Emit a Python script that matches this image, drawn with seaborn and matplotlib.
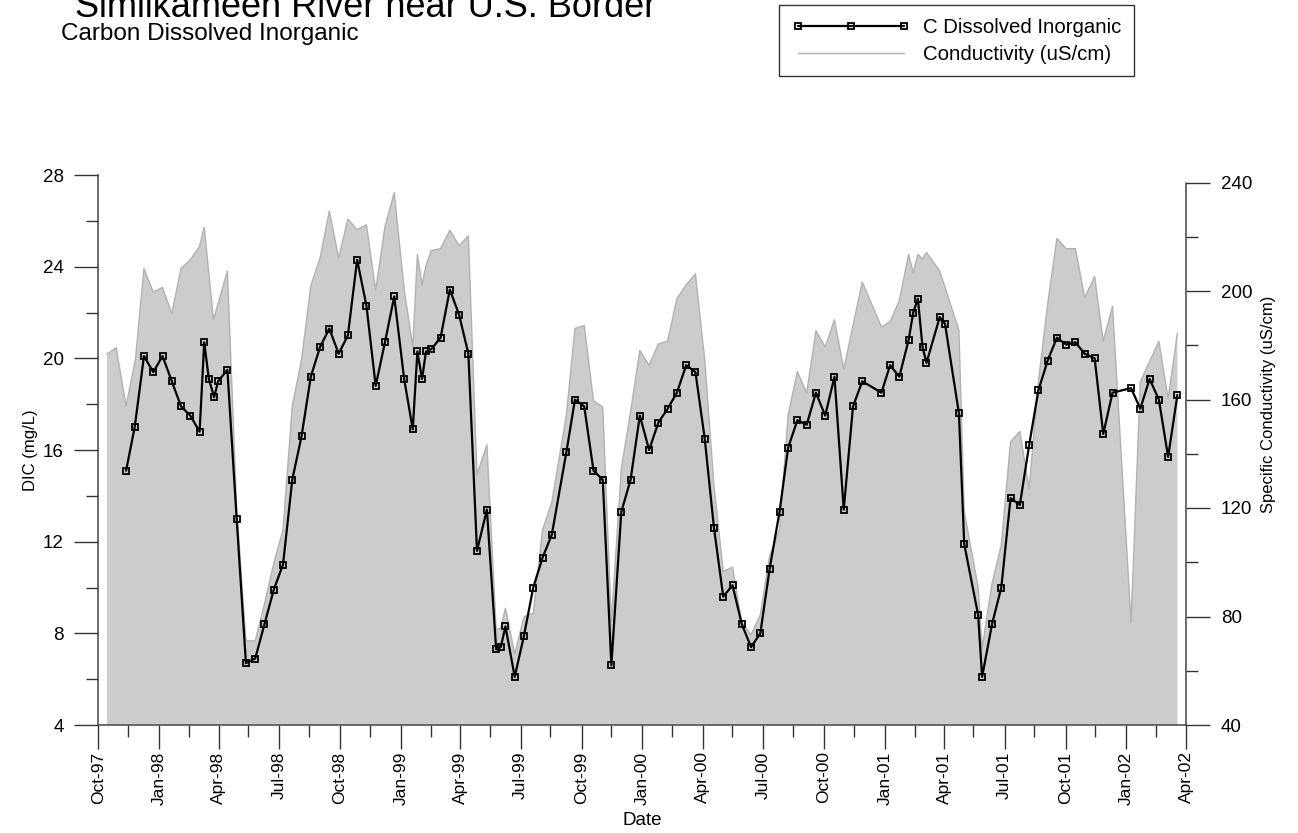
import numpy as np
import pandas as pd
import matplotlib
matplotlib.use("Agg")
import matplotlib.pyplot as plt
import matplotlib.dates as mdates
from matplotlib.lines import Line2D
import seaborn as sns

# ---------------- data ----------------
title = "Similkameen River near U.S. Border"
subtitle = "Carbon Dissolved Inorganic"
dic_label = "C Dissolved Inorganic"
cond_label = "Conductivity (uS/cm)"

dic_dates = [
    '1997-11-12', '1997-11-25', '1997-12-09', '1997-12-23', '1998-01-06', '1998-01-20', '1998-02-03',
    '1998-02-17', '1998-03-03', '1998-03-10', '1998-03-17', '1998-03-25', '1998-03-31', '1998-04-14',
    '1998-04-28', '1998-05-12', '1998-05-26', '1998-06-09', '1998-06-23', '1998-07-07', '1998-07-21',
    '1998-08-04', '1998-08-18', '1998-09-01', '1998-09-15', '1998-09-29', '1998-10-13', '1998-10-27',
    '1998-11-10', '1998-11-24', '1998-12-08', '1998-12-22', '1999-01-06', '1999-01-19', '1999-01-26',
    '1999-02-02', '1999-02-08', '1999-02-16', '1999-03-02', '1999-03-16', '1999-03-30', '1999-04-13',
    '1999-04-26', '1999-05-11', '1999-05-25', '1999-06-01', '1999-06-08', '1999-06-22', '1999-07-06',
    '1999-07-20', '1999-08-03', '1999-08-17', '1999-09-08', '1999-09-21', '1999-10-05', '1999-10-19',
    '1999-11-02', '1999-11-15', '1999-11-30', '1999-12-14', '1999-12-28', '2000-01-11', '2000-01-25',
    '2000-02-08', '2000-02-22', '2000-03-07', '2000-03-21', '2000-04-04', '2000-04-18', '2000-05-02',
    '2000-05-16', '2000-05-30', '2000-06-13', '2000-06-27', '2000-07-11', '2000-07-26', '2000-08-08',
    '2000-08-22', '2000-09-05', '2000-09-19', '2000-10-03', '2000-10-17', '2000-10-31', '2000-11-14',
    '2000-11-28', '2000-12-27', '2001-01-09', '2001-01-23', '2001-02-06', '2001-02-13', '2001-02-20',
    '2001-02-27', '2001-03-05', '2001-03-25', '2001-04-02', '2001-04-23', '2001-05-01', '2001-05-22',
    '2001-05-28', '2001-06-12', '2001-06-26', '2001-07-10', '2001-07-24', '2001-08-07', '2001-08-21',
    '2001-09-04', '2001-09-18', '2001-10-02', '2001-10-16', '2001-10-30', '2001-11-14', '2001-11-27',
    '2001-12-11', '2002-01-08', '2002-01-22', '2002-02-05', '2002-02-19', '2002-03-05', '2002-03-19']

dic_values = [
    15.1, 17.0, 20.1, 19.4, 20.1, 19.0, 17.9, 17.5, 16.8, 20.7, 19.1, 18.3, 19.0, 19.5,
    13.0, 6.7, 6.9, 8.4, 9.9, 11.0, 14.7, 16.6, 19.2, 20.5, 21.3, 20.2, 21.0, 24.3,
    22.3, 18.8, 20.7, 22.7, 19.1, 16.9, 20.3, 19.1, 20.3, 20.4, 20.9, 23.0, 21.9, 20.2,
    11.6, 13.4, 7.3, 7.4, 8.3, 6.1, 7.9, 10.0, 11.3, 12.3, 15.9, 18.2, 17.9, 15.1,
    14.7, 6.6, 13.3, 14.7, 17.5, 16.0, 17.2, 17.8, 18.5, 19.7, 19.4, 16.5, 12.6, 9.6,
    10.1, 8.4, 7.4, 8.0, 10.8, 13.3, 16.1, 17.3, 17.1, 18.5, 17.5, 19.2, 13.4, 17.9,
    19.0, 18.5, 19.7, 19.2, 20.8, 22.0, 22.6, 20.5, 19.8, 21.8, 21.5, 17.6, 11.9, 8.8,
    6.1, 8.4, 10.0, 13.9, 13.6, 16.2, 18.6, 19.9, 20.9, 20.6, 20.7, 20.2, 20.0, 16.7,
    18.5, 18.7, 17.8, 19.1, 18.2, 15.7, 18.4]

cond_dates = [
    '1997-10-14', '1997-10-28', '1997-11-12', '1997-11-26', '1997-12-09', '1997-12-23', '1998-01-06',
    '1998-01-20', '1998-02-03', '1998-02-17', '1998-03-03', '1998-03-10', '1998-03-24', '1998-04-14',
    '1998-04-28', '1998-05-12', '1998-05-26', '1998-06-09', '1998-06-23', '1998-07-07', '1998-07-21',
    '1998-08-04', '1998-08-18', '1998-09-01', '1998-09-15', '1998-09-29', '1998-10-13', '1998-10-27',
    '1998-11-10', '1998-11-24', '1998-12-08', '1998-12-22', '1999-01-06', '1999-01-19', '1999-01-26',
    '1999-02-02', '1999-02-08', '1999-02-16', '1999-03-02', '1999-03-16', '1999-03-30', '1999-04-13',
    '1999-04-26', '1999-05-11', '1999-05-25', '1999-06-01', '1999-06-08', '1999-06-22', '1999-07-06',
    '1999-07-20', '1999-08-03', '1999-08-17', '1999-09-08', '1999-09-21', '1999-10-05', '1999-10-19',
    '1999-11-02', '1999-11-15', '1999-11-30', '1999-12-14', '1999-12-28', '2000-01-11', '2000-01-25',
    '2000-02-08', '2000-02-22', '2000-03-07', '2000-03-21', '2000-04-04', '2000-04-18', '2000-05-02',
    '2000-05-16', '2000-05-30', '2000-06-13', '2000-06-27', '2000-07-11', '2000-07-26', '2000-08-08',
    '2000-08-22', '2000-09-05', '2000-09-19', '2000-10-03', '2000-10-17', '2000-10-31', '2000-11-28',
    '2000-12-27', '2001-01-09', '2001-01-23', '2001-02-06', '2001-02-13', '2001-02-20', '2001-02-27',
    '2001-03-05', '2001-03-25', '2001-04-02', '2001-04-23', '2001-05-01', '2001-05-22', '2001-05-28',
    '2001-06-12', '2001-06-26', '2001-07-10', '2001-07-24', '2001-08-07', '2001-08-21', '2001-09-04',
    '2001-09-18', '2001-10-02', '2001-10-16', '2001-10-30', '2001-11-14', '2001-11-27', '2001-12-11',
    '2002-01-08', '2002-01-22', '2002-02-05', '2002-02-19', '2002-03-05', '2002-03-19']

cond_values = [
    176.7, 179.1, 157.6, 174.6, 208.3, 199.6, 201.3, 191.7, 208.3, 211.5, 216.5, 223.5, 189.4, 207.4,
    120.0, 71.0, 71.0, 84.6, 99.6, 111.9, 157.6, 174.6, 201.9, 212.2, 229.5, 212.2, 226.5, 222.6,
    224.4, 200.3, 223.7, 236.3, 200.6, 179.4, 213.5, 202.3, 209.4, 214.9, 215.6, 222.4, 216.7, 220.3,
    132.3, 143.3, 75.1, 75.8, 83.0, 66.2, 79.9, 81.2, 111.9, 122.1, 154.2, 186.2, 187.3, 159.6,
    157.2, 78.0, 134.4, 155.5, 178.1, 172.6, 180.5, 181.5, 197.2, 202.3, 206.3, 174.6, 128.3, 96.6,
    98.2, 77.8, 73.3, 80.6, 102.3, 111.9, 154.2, 170.3, 162.4, 185.3, 179.4, 189.4, 171.2, 203.3,
    186.7, 188.7, 196.5, 213.5, 206.7, 213.5, 211.8, 214.2, 207.4, 201.3, 185.5, 118.7, 90.8, 68.3,
    92.1, 106.4, 144.4, 148.2, 127.2, 166.5, 195.1, 219.4, 215.6, 215.6, 197.6, 205.3, 181.5, 194.4,
    77.8, 166.5, 174.0, 181.5, 160.3, 184.5]

dic_ticks = [4, 8, 12, 16, 20, 24, 28]
cond_ticks = [40, 80, 120, 160, 200, 240]

# ---------------- figure ----------------
sns.set_theme(style="white")
plt.rcParams['font.family'] = ['Liberation Sans', 'DejaVu Sans']
plt.rcParams['text.color'] = 'black'
plt.rcParams['axes.labelcolor'] = 'black'
plt.rcParams['xtick.color'] = 'black'
plt.rcParams['ytick.color'] = 'black'

W, H = 1298, 833
fig = plt.figure(figsize=(W / 100, H / 100), dpi=100)
L, R, T, B = 98.3, 1186.0, 175.0, 725.0
ax = fig.add_axes([L / W, 1 - B / H, (R - L) / W, (B - T) / H])
ax2 = ax.twinx()
ax.set_zorder(ax2.get_zorder() + 1)
ax.patch.set_visible(False)

dic_df = pd.DataFrame({"date": pd.to_datetime(dic_dates), "dic": dic_values})
cond_df = pd.DataFrame({"date": pd.to_datetime(cond_dates), "cond": cond_values})

# conductivity area (right axis)
ax2.fill_between(cond_df["date"], cond_df["cond"], 40, facecolor="#cccccc", edgecolor="none", lw=0)
sns.lineplot(data=cond_df, x="date", y="cond", ax=ax2, color="#b2b2b2", lw=1.0, legend=False)

# DIC line (left axis)
sns.lineplot(data=dic_df, x="date", y="dic", ax=ax, color="black", lw=1.6, marker="s",
             markersize=5, markerfacecolor="none", markeredgecolor="black", markeredgewidth=1.3,
             legend=False)

# axes ranges
ax.set_xlim(pd.Timestamp("1997-10-01"), pd.Timestamp("2002-04-01"))
ax.set_ylim(4, 28)
px_per_cond = (B - 182.5) / 200.0
ax2.set_ylim(40, 240 + (182.5 - T) / px_per_cond)

# ticks
ax.xaxis.set_major_locator(mdates.MonthLocator(bymonth=[1, 4, 7, 10], bymonthday=1))
ax.xaxis.set_major_formatter(mdates.DateFormatter('%b-%y'))
ax.xaxis.set_minor_locator(mdates.MonthLocator(bymonth=[2, 5, 8, 11], bymonthday=15))
ax.set_yticks(dic_ticks)
ax.set_yticks([6, 10, 14, 18, 22, 26], minor=True)
ax2.set_yticks(cond_ticks)
ax2.set_yticks([60, 100, 140, 180, 220], minor=True)

tick_col = "#333333"
ax.tick_params(axis='x', which='major', direction='out', length=17, width=1, color=tick_col,
               labelsize=12.5, labelrotation=90, pad=2, bottom=True)
ax.tick_params(axis='x', which='minor', direction='out', length=8.5, width=1, color=tick_col, bottom=True)
ax.tick_params(axis='y', which='major', direction='out', length=17, width=1, color=tick_col,
               labelsize=13.5, pad=8, left=True)
ax.tick_params(axis='y', which='minor', direction='out', length=8.5, width=1, color=tick_col, left=True)
ax2.tick_params(axis='y', which='major', direction='out', length=17, width=1, color=tick_col,
                labelsize=13.5, pad=8, right=True)
ax2.tick_params(axis='y', which='minor', direction='out', length=8.5, width=1, color=tick_col, right=True)
ax2.tick_params(axis='x', bottom=False, labelbottom=False)

for s in ["top", "right"]:
    ax.spines[s].set_visible(False)
for s in ["top", "left", "bottom"]:
    ax2.spines[s].set_visible(False)
for sp in [ax.spines["left"], ax.spines["bottom"], ax2.spines["right"]]:
    sp.set_color("#444444")
    sp.set_linewidth(1.1)
ax2.spines["right"].set_bounds(40, 240)

# labels
ax.set_xlabel("Date", fontsize=13.5, family=['Liberation Sans Narrow', 'Liberation Sans'], labelpad=5)
ax.set_ylabel("DIC (mg/L)", fontsize=12, labelpad=3)
ax2.set_ylabel("Specific Conductivity (uS/cm)", fontsize=12)
ax2.yaxis.set_label_coords((1268 - L) / (R - L), (B - 404) / (B - T))
ax2.yaxis.label.set_va("center")

# titles
fig.text(75 / W, 1 - 17 / H, title, fontsize=26, va="baseline", ha="left")
fig.text(61 / W, 1 - 40 / H, subtitle, fontsize=17.5, va="baseline", ha="left")

# legend
h1 = Line2D([], [], color="black", lw=1.6, marker="s", markersize=5, markerfacecolor="none",
            markeredgecolor="black", markeredgewidth=1.3)
h2 = Line2D([], [], color="#b2b2b2", lw=1.0)
leg = fig.legend([h1, h2], [dic_label, cond_label], loc="upper left",
                 bbox_to_anchor=(779 / W, 1 - 5 / H), bbox_transform=fig.transFigure,
                 borderaxespad=0, frameon=True, fancybox=False, shadow=False,
                 edgecolor="black", fontsize=14.7, numpoints=3, handlelength=5.8,
                 handletextpad=0.62, borderpad=0.62, labelspacing=0.4)
leg.get_frame().set_linewidth(1.0)

fig.savefig("out.png", dpi=100)
